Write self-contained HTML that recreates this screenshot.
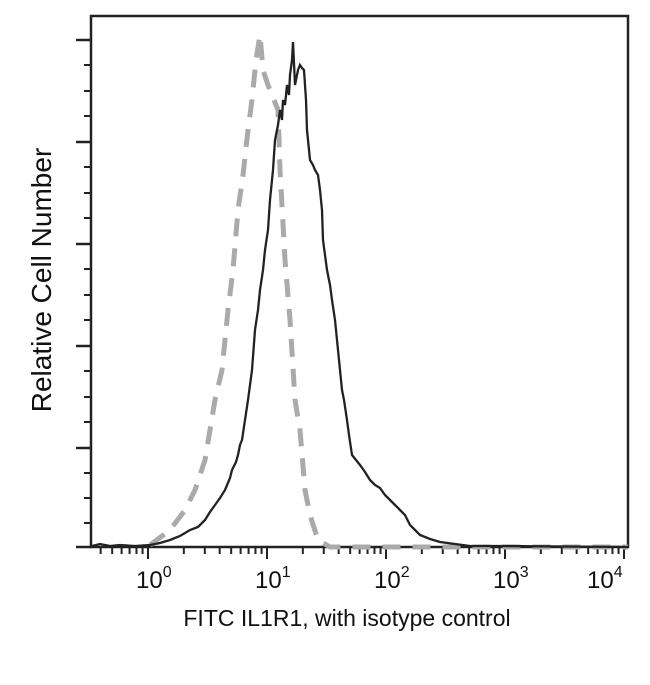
<!DOCTYPE html>
<html><head><style>body{margin:0;background:#fff}</style></head><body>
<svg width="650" height="680" xmlns="http://www.w3.org/2000/svg" font-family="Liberation Sans, sans-serif">
<rect x="91" y="16" width="537" height="531" fill="none" stroke="#222" stroke-width="2.5"/>
<g stroke="#222" stroke-width="2.5">
<line x1="76" y1="40" x2="91" y2="40"/><line x1="76" y1="142" x2="91" y2="142"/><line x1="76" y1="244" x2="91" y2="244"/><line x1="76" y1="346" x2="91" y2="346"/><line x1="76" y1="448" x2="91" y2="448"/><line x1="76" y1="547" x2="91" y2="547"/>
</g>
<g stroke="#222" stroke-width="2">
<line x1="84" y1="65" x2="91" y2="65"/><line x1="84" y1="91" x2="91" y2="91"/><line x1="84" y1="116" x2="91" y2="116"/>
<line x1="84" y1="167" x2="91" y2="167"/><line x1="84" y1="193" x2="91" y2="193"/><line x1="84" y1="218" x2="91" y2="218"/>
<line x1="84" y1="269" x2="91" y2="269"/><line x1="84" y1="295" x2="91" y2="295"/><line x1="84" y1="320" x2="91" y2="320"/>
<line x1="84" y1="371" x2="91" y2="371"/><line x1="84" y1="397" x2="91" y2="397"/><line x1="84" y1="422" x2="91" y2="422"/>
<line x1="84" y1="473" x2="91" y2="473"/><line x1="84" y1="498" x2="91" y2="498"/><line x1="84" y1="523" x2="91" y2="523"/>
</g>
<g id="xt" stroke="#222" stroke-width="2"></g>
<polyline fill="none" stroke="#aaa" stroke-width="5" stroke-dasharray="18 12" points="150,545 170,530 185,510 195,490 205,460 215,400 222,370 228,310 233,270 238,210 243,175 248,130 252,100 256,60 260,35 263,70 268,85 272,95 278,110 280,170 285,260 290,320 295,400 300,430 305,490 310,515 318,540 330,547 628,547"/>
<polyline fill="none" stroke="#222" stroke-width="2.3" points="92,546 100,544 110,546 120,545 135,546 150,545 160,543 170,540 180,536 190,530 198,527 205,520 210,512 215,505 220,498 225,490 230,478 232,470 236,462 238,455 240,445 242,440 245,420 248,400 252,370 255,330 258,310 260,290 263,270 265,250 268,230 270,200 273,170 275,140 278,125 280,110 282,120 283,100 285,105 287,85 289,95 290,75 292,60 293,42 295,85 296,80 298,70 300,65 302,68 304,70 306,100 307,130 309,150 310,160 313,165 315,170 318,175 320,190 322,210 323,240 325,255 327,270 330,285 332,300 335,320 337,340 340,370 342,390 344,400 347,420 349,435 352,455 356,460 360,465 365,472 370,480 375,485 380,488 385,495 390,500 395,505 400,510 405,515 410,525 415,530 420,535 430,539 440,542 455,544 470,546 500,546 628,547"/>
<g font-size="24" fill="#111">
<text x="136" y="588">10<tspan font-size="16" dy="-11">0</tspan></text>
<text x="255" y="588">10<tspan font-size="16" dy="-11">1</tspan></text>
<text x="374" y="588">10<tspan font-size="16" dy="-11">2</tspan></text>
<text x="493" y="588">10<tspan font-size="16" dy="-11">3</tspan></text>
<text x="587" y="588">10<tspan font-size="16" dy="-11">4</tspan></text>
</g>
<text x="347" y="626" font-size="23" text-anchor="middle" fill="#111">FITC IL1R1, with isotype control</text>
<text transform="translate(51,280) rotate(-90)" font-size="28" text-anchor="middle" fill="#111">Relative Cell Number</text>
</svg>
<script>
var g=document.getElementById('xt'),s='';
var x0=148,d=119;
for(var k=-1;k<4;k++){for(var m=1;m<10;m++){var x=x0+d*(k+Math.log10(m));if(x<92||x>628)continue;var L=m==1?12:7;s+='<line x1="'+x+'" y1="547" x2="'+x+'" y2="'+(547+L)+'"/>';}}
s+='<line x1="624" y1="547" x2="624" y2="559"/>';
g.innerHTML=s;
</script>
</body></html>
